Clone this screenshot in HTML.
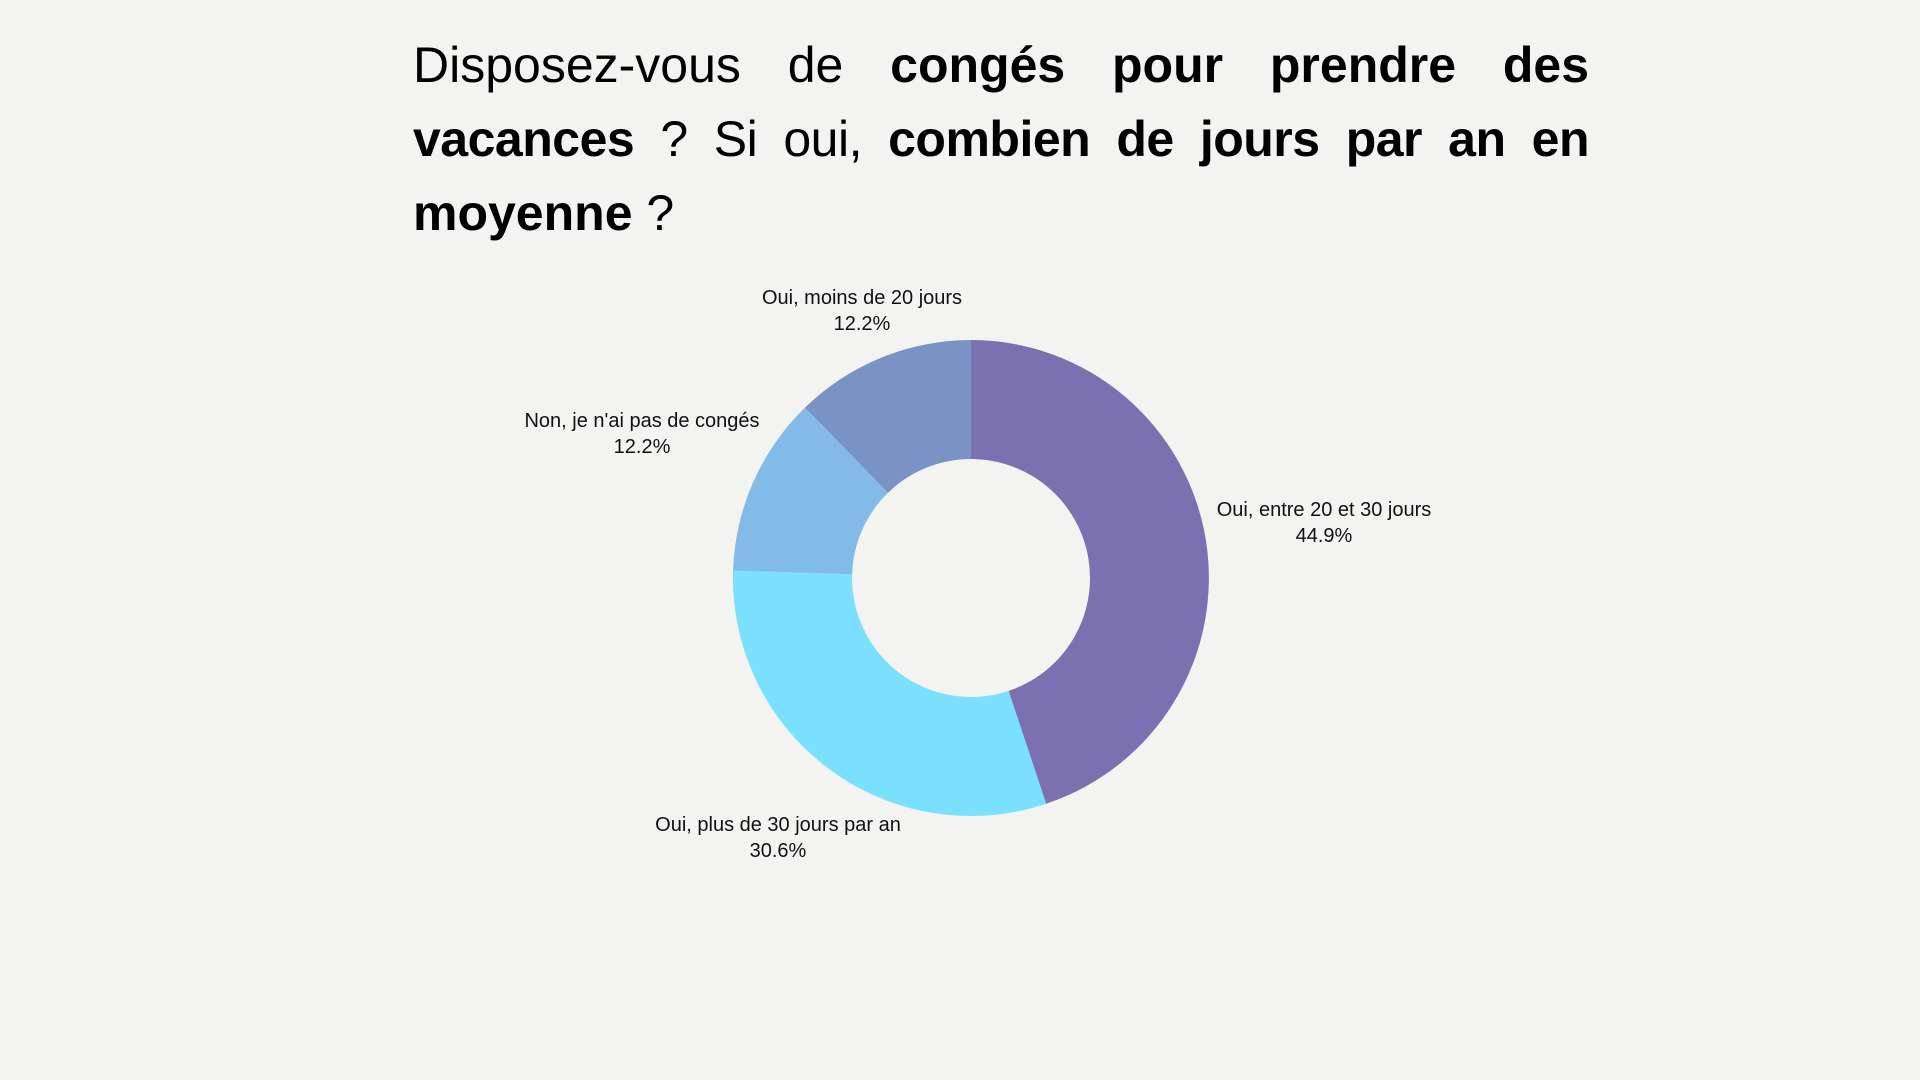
<!DOCTYPE html>
<html><head><meta charset="utf-8"><style>
body{margin:0;width:1920px;height:1080px;background:#f3f3f2;position:relative;overflow:hidden;font-family:"Liberation Sans",sans-serif;color:#000}
.t{position:absolute;left:413px;width:1176px;font-size:50px;text-align:justify;text-align-last:justify;white-space:nowrap;line-height:1}
.t b{font-weight:700}
.l{position:absolute;font-size:20px;text-align:center;line-height:26px;transform:translateX(-50%);white-space:nowrap;color:#111}
</style></head><body>
<div class="t" style="top:40px">Disposez-vous de <b>congés pour prendre des</b></div>
<div class="t" style="top:114px;letter-spacing:-0.5px"><b>vacances</b> ? Si oui, <b>combien de jours par an en</b></div>
<div class="t" style="top:188px;text-align-last:left"><b>moyenne</b> ?</div>
<svg width="1920" height="1080" style="position:absolute;left:0;top:0">
<g transform="translate(971,578)">
<path d="M0,-238 A238,238 0 0 1 75.1,225.8 L37.6,112.9 A119,119 0 0 0 0,-119 Z" fill="#7b70b0"/>
<path d="M75.1,225.8 A238,238 0 0 1 -237.9,-7.5 L-118.9,-3.7 A119,119 0 0 0 37.6,112.9 Z" fill="#7ae0fd"/>
<path d="M-237.9,-7.5 A238,238 0 0 1 -166,-170.4 L-83,-85.2 A119,119 0 0 0 -118.9,-3.7 Z" fill="#82bae8"/>
<path d="M-166,-170.4 A238,238 0 0 1 0,-238 L0,-119 A119,119 0 0 0 -83,-85.2 Z" fill="#7a92c4"/>
</g></svg>
<div class="l" style="left:862px;top:285px">Oui, moins de 20 jours<br>12.2%</div>
<div class="l" style="left:642px;top:408px">Non, je n'ai pas de congés<br>12.2%</div>
<div class="l" style="left:1324px;top:497px">Oui, entre 20 et 30 jours<br>44.9%</div>
<div class="l" style="left:778px;top:812px">Oui, plus de 30 jours par an<br>30.6%</div>
</body></html>
